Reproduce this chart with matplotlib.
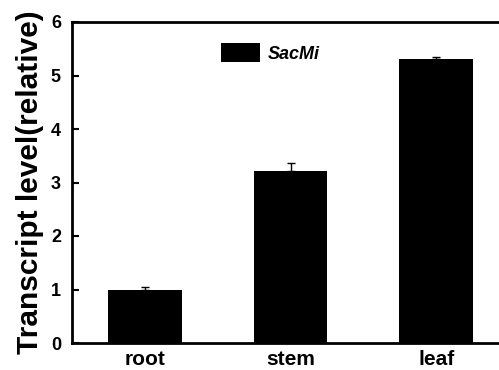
import matplotlib
matplotlib.use("Agg")
import matplotlib.pyplot as plt

categories = ["root", "stem", "leaf"]
values = [1.0, 3.22, 5.30]
errors = [0.05, 0.14, 0.04]
series_name = "SacMi"
yticks = [0, 1, 2, 3, 4, 5, 6]

plt.rcParams['font.family'] = ['Liberation Sans', 'DejaVu Sans']
plt.rcParams['font.weight'] = 'bold'

fig = plt.figure(figsize=(4.99, 3.70), dpi=100)
ax = fig.add_axes([72/499, 27/370, (509-72)/499, (343-22)/370])

x = [1, 2, 3]
ax.bar(x, values, width=0.507, color='black', label=series_name, zorder=2)
ax.errorbar(x, values, yerr=[[0]*3, errors], fmt='none', ecolor='black',
            elinewidth=1, capsize=3, capthick=1, zorder=3)

ax.set_xlim(0.5, 3.5)
ax.set_ylim(0, 6)
ax.set_xticks(x)
ax.set_xticklabels(categories, fontsize=15, fontweight='bold')
ax.set_yticks(yticks)
ax.set_yticklabels([str(t) for t in yticks], fontsize=13, fontweight='bold')
ax.tick_params(axis='y', direction='in', length=5, width=1.5, pad=8)
ax.tick_params(axis='x', length=0, pad=5)
for s in ax.spines.values():
    s.set_linewidth(2)
ax.set_ylabel("Transcript level(relative)", fontsize=21.5, fontweight='bold', labelpad=5)

leg = ax.legend(loc='upper left', bbox_to_anchor=(0.313, 0.975), frameon=False,
                prop={'size': 13, 'weight': 'bold', 'style': 'italic'},
                handlelength=2.15, handleheight=1.3, handletextpad=0.4,
                borderaxespad=0.3)

fig.savefig("out.png", dpi=100)
